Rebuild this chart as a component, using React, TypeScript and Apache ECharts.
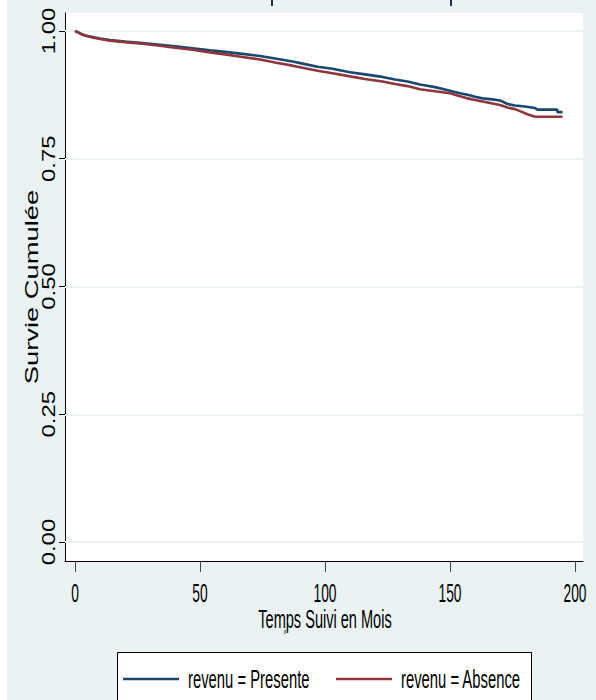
import React, { useEffect, useRef } from 'react';
import * as echarts from 'echarts';

const xTicks = [0, 50, 100, 150, 200];
const yTicks = [0, 0.25, 0.5, 0.75, 1];
const yTickLabels = ['0.00', '0.25', '0.50', '0.75', '1.00'];

const timePresente = [0, 2, 4, 7, 10, 14, 20, 27, 34, 40, 47, 54, 60, 67, 74, 80, 87, 92, 97, 103, 110, 116, 123, 128, 133, 138, 144, 150, 154, 157, 160, 163, 167, 170, 173, 176, 180, 184, 185, 192.9, 193, 195];
const survPresente = [1.0, 0.995, 0.991, 0.988, 0.985, 0.982, 0.979, 0.976, 0.973, 0.970, 0.966, 0.962, 0.959, 0.955, 0.951, 0.946, 0.940, 0.935, 0.930, 0.926, 0.919, 0.915, 0.910, 0.905, 0.901, 0.895, 0.890, 0.883, 0.878, 0.875, 0.871, 0.868, 0.866, 0.864, 0.857, 0.854, 0.852, 0.849, 0.846, 0.846, 0.841, 0.841];

const timeAbsence = [0, 2, 4, 7, 10, 14, 20, 27, 34, 40, 47, 54, 60, 67, 74, 80, 87, 92, 97, 103, 110, 116, 123, 128, 133, 138, 144, 150, 154, 157, 160, 163, 167, 170, 173, 176, 178, 181, 184, 195];
const survAbsence = [1.0, 0.995, 0.991, 0.987, 0.984, 0.981, 0.978, 0.975, 0.971, 0.967, 0.963, 0.958, 0.954, 0.949, 0.944, 0.938, 0.932, 0.927, 0.922, 0.917, 0.911, 0.906, 0.901, 0.896, 0.892, 0.886, 0.882, 0.878, 0.872, 0.868, 0.865, 0.862, 0.858, 0.855, 0.850, 0.847, 0.843, 0.837, 0.832, 0.832];

const seriesNames = ['revenu = Presente', 'revenu = Absence'];
const xTitle = 'Temps Suivi en Mois';
const yTitle = 'Survie Cumulée';

const BLUE = '#1a476f';
const RED = '#90353b';
const BG = '#eaf2f3';
const FONT = '"Liberation Sans", Arial, Helvetica, sans-serif';

export default function App() {
  const ref = useRef<HTMLDivElement>(null);
  useEffect(() => {
    const el = ref.current!;
    const chart = echarts.init(el, null, { renderer: 'svg' });
    const option: any = {
      animation: false,
      backgroundColor: BG,
      grid: {
        left: 65, right: 13, top: 13, bottom: 139,
        show: true, backgroundColor: '#ffffff', borderWidth: 0,
        containLabel: false,
      },
      xAxis: {
        type: 'value', min: -4, max: 203.2,
        axisLine: { show: true, onZero: false, lineStyle: { color: '#000', width: 1 } },
        axisTick: { show: true, customValues: xTicks, length: 11, lineStyle: { color: '#444', width: 1 } },
        axisLabel: { show: false },
        splitLine: { show: false },
      },
      yAxis: {
        type: 'value', min: -0.037, max: 1.035,
        axisLine: { show: true, onZero: false, lineStyle: { color: '#000', width: 1 } },
        axisTick: { show: true, customValues: yTicks, length: 6, lineStyle: { color: '#000', width: 1 } },
        axisLabel: { show: false },
        splitLine: { show: false },
      },
      series: [
        {
          name: seriesNames[0], type: 'line', showSymbol: false, z: 3,
          data: timePresente.map((t, i) => [t, survPresente[i]]),
          lineStyle: { color: BLUE, width: 2.6 }, itemStyle: { color: BLUE },
          markLine: {
            silent: true, symbol: 'none', z: 1,
            label: { show: false },
            lineStyle: { color: BG, width: 2, type: 'solid' },
            data: yTicks.map((v) => ({ yAxis: v })),
          },
        },
        {
          name: seriesNames[1], type: 'line', showSymbol: false, z: 4,
          data: timeAbsence.map((t, i) => [t, survAbsence[i]]),
          lineStyle: { color: RED, width: 2.6 }, itemStyle: { color: RED },
        },
      ],
    };
    chart.setOption(option);

    const gfx: any[] = [];
    gfx.push({ type: 'rect', shape: { x: 0, y: 0, width: 7, height: 700 }, style: { fill: '#ffffff' }, silent: true });
    gfx.push({ type: 'line', shape: { x1: 272, y1: 0, x2: 272, y2: 6 }, style: { stroke: '#1c2e5c', lineWidth: 2 } });
    gfx.push({ type: 'line', shape: { x1: 451, y1: 0, x2: 451, y2: 6 }, style: { stroke: '#1c2e5c', lineWidth: 2 } });

    xTicks.forEach((v) => {
      const px = chart.convertToPixel({ xAxisIndex: 0 } as any, v) as any as number;
      gfx.push({
        type: 'text', x: px, y: 593, scaleX: 0.53,
        style: { text: String(v), font: `26px ${FONT}`, fill: '#000', align: 'center', verticalAlign: 'middle', textAlign: 'center', textVerticalAlign: 'middle' },
      });
    });
    yTicks.forEach((v, i) => {
      const py = chart.convertToPixel({ yAxisIndex: 0 } as any, v) as any as number;
      gfx.push({
        type: 'text', x: 49, y: py, rotation: Math.PI / 2, scaleX: 1.33,
        style: { text: yTickLabels[i], font: `18px ${FONT}`, fill: '#000', align: 'center', verticalAlign: 'middle', textAlign: 'center', textVerticalAlign: 'middle' },
      });
    });
    gfx.push({
      type: 'text', x: 325, y: 619, scaleX: 0.56,
      style: { text: xTitle, font: `26px ${FONT}`, fill: '#000', align: 'center', verticalAlign: 'middle', textAlign: 'center', textVerticalAlign: 'middle' },
    });
    gfx.push({
      type: 'text', x: 32, y: 287, rotation: Math.PI / 2, scaleX: 1.52,
      style: { text: yTitle, font: `18px ${FONT}`, fill: '#000', align: 'center', verticalAlign: 'middle', textAlign: 'center', textVerticalAlign: 'middle' },
    });
    // legend
    gfx.push({ type: 'rect', shape: { x: 117.5, y: 652.5, width: 414, height: 60 }, style: { fill: '#ffffff', stroke: '#000', lineWidth: 1 } });
    gfx.push({ type: 'line', shape: { x1: 123, y1: 679, x2: 179, y2: 679 }, style: { stroke: BLUE, lineWidth: 2.6 } });
    gfx.push({ type: 'line', shape: { x1: 336, y1: 679, x2: 392, y2: 679 }, style: { stroke: RED, lineWidth: 2.6 } });
    gfx.push({
      type: 'text', x: 188, y: 679, scaleX: 0.57,
      style: { text: seriesNames[0], font: `26px ${FONT}`, fill: '#000', align: 'left', verticalAlign: 'middle', textAlign: 'left', textVerticalAlign: 'middle' },
    });
    gfx.push({
      type: 'text', x: 401, y: 679, scaleX: 0.57,
      style: { text: seriesNames[1], font: `26px ${FONT}`, fill: '#000', align: 'left', verticalAlign: 'middle', textAlign: 'left', textVerticalAlign: 'middle' },
    });
    gfx.push({ type: 'line', shape: { x1: 285, y1: 630, x2: 285, y2: 634 }, style: { stroke: '#333', lineWidth: 1 } });

    chart.setOption({ graphic: gfx });
    return () => chart.dispose();
  }, []);
  return <div ref={ref} style={{ position: 'absolute', left: 0, top: 0, width: 596, height: 700 }} />;
}
